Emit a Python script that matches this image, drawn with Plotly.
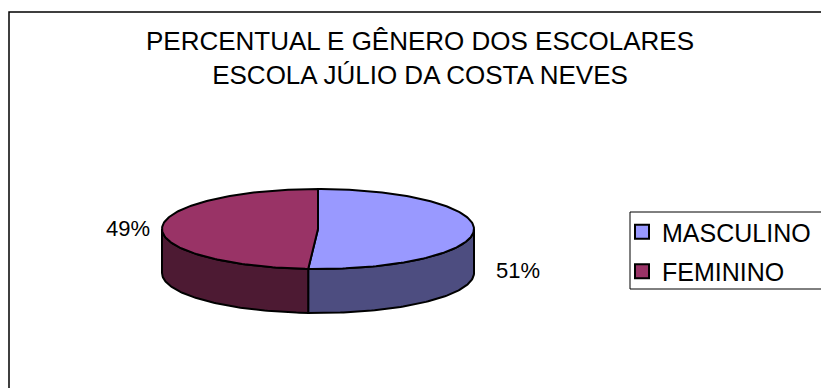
import numpy as np
import plotly.graph_objects as go

# ---- data ----
categories = ["MASCULINO", "FEMININO"]
values = [51, 49]
labels = ["51%", "49%"]
top_colors = ["#9999FF", "#993366"]
side_colors = ["#4D4D80", "#4D1A33"]

title_lines = ["PERCENTUAL E GÊNERO DOS ESCOLARES", "ESCOLA JÚLIO DA COSTA NEVES"]

# ---- geometry (style) ----
W, H = 821, 388
cx, cy = 318.0, 229.0
rx, ry = 156.0, 40.0
depth = 44.0
FONT = "Liberation Sans, Arial, sans-serif"


def pt(theta_deg, dy=0.0):
    t = np.radians(theta_deg)
    return cx + rx * np.sin(t), cy - ry * np.cos(t) + dy


fig = go.Figure()

total = float(sum(values))
angles = []
a = 0.0
for v in values:
    b = a + 360.0 * v / total
    angles.append((a, b))
    a = b

# sides (front half only: 90..270 deg clockwise from top)
for (a0, a1), col in zip(angles, side_colors):
    s0, s1 = max(a0, 90.0), min(a1, 270.0)
    if s1 <= s0:
        continue
    th = np.linspace(s0, s1, 80)
    xt, yt = pt(th)
    xb, yb = pt(th[::-1], depth)
    xs = np.concatenate([xt, xb, xt[:1]])
    ys = np.concatenate([yt, yb, yt[:1]])
    fig.add_trace(go.Scatter(x=xs, y=ys, mode="lines", fill="toself",
                             fillcolor=col, line=dict(color="black", width=2),
                             hoverinfo="skip", showlegend=False))

# tops
for (a0, a1), col in zip(angles, top_colors):
    th = np.linspace(a0, a1, 160)
    xa, ya = pt(th)
    xs = np.concatenate([[cx], xa, [cx]])
    ys = np.concatenate([[cy], ya, [cy]])
    fig.add_trace(go.Scatter(x=xs, y=ys, mode="lines", fill="toself",
                             fillcolor=col, line=dict(color="black", width=2),
                             hoverinfo="skip", showlegend=False))

# legend entries
for i, (name, col) in enumerate(zip(categories, top_colors)):
    fig.add_trace(go.Scatter(x=[None], y=[None], mode="markers", name=name,
                             legendgroup=f"g{i}",
                             marker=dict(symbol="square", size=14, color=col,
                                         line=dict(color="black", width=2))))

# data labels
annotations = []
for (a0, a1), lab in zip(angles, labels):
    mid = (a0 + a1) / 2.0
    front = 90.0 < mid < 270.0
    px, py = pt(mid, depth - 4 if front else 1.0)
    right = np.sin(np.radians(mid)) > 0
    annotations.append(dict(
        x=px + (20 if right else -10), y=py, xref="x", yref="y",
        text=lab, showarrow=False,
        xanchor="left" if right else "right", yanchor="middle",
        font=dict(family=FONT, size=22, color="black")))

# title
annotations.append(dict(
    x=420 / W, y=1 - 24 / H, xref="paper", yref="paper",
    xanchor="center", yanchor="top", showarrow=False,
    text="<br>".join(title_lines),
    font=dict(family=FONT, size=26, color="black")))

fig.update_layout(
    width=W, height=H,
    margin=dict(l=0, r=0, t=0, b=0),
    paper_bgcolor="white", plot_bgcolor="white",
    xaxis=dict(range=[0, W], visible=False, fixedrange=True),
    yaxis=dict(range=[H, 0], visible=False, fixedrange=True),
    legend=dict(x=622 / W, y=1 - 209 / H, xanchor="left", yanchor="top",
                borderwidth=0, bgcolor="rgba(0,0,0,0)",
                font=dict(family=FONT, size=25, color="black"),
                tracegroupgap=4, itemwidth=30),
    annotations=annotations,
    shapes=[
        dict(type="rect", xref="paper", yref="paper",
             x0=9 / W, x1=1.05, y0=-0.05, y1=1 - 12 / H,
             line=dict(color="black", width=1.5), layer="below"),
        dict(type="rect", xref="x", yref="y",
             x0=630, x1=W + 10, y0=212, y1=289,
             line=dict(color="black", width=1), fillcolor="white",
             layer="below"),
    ],
    showlegend=True,
)

fig.write_html("out.html")
